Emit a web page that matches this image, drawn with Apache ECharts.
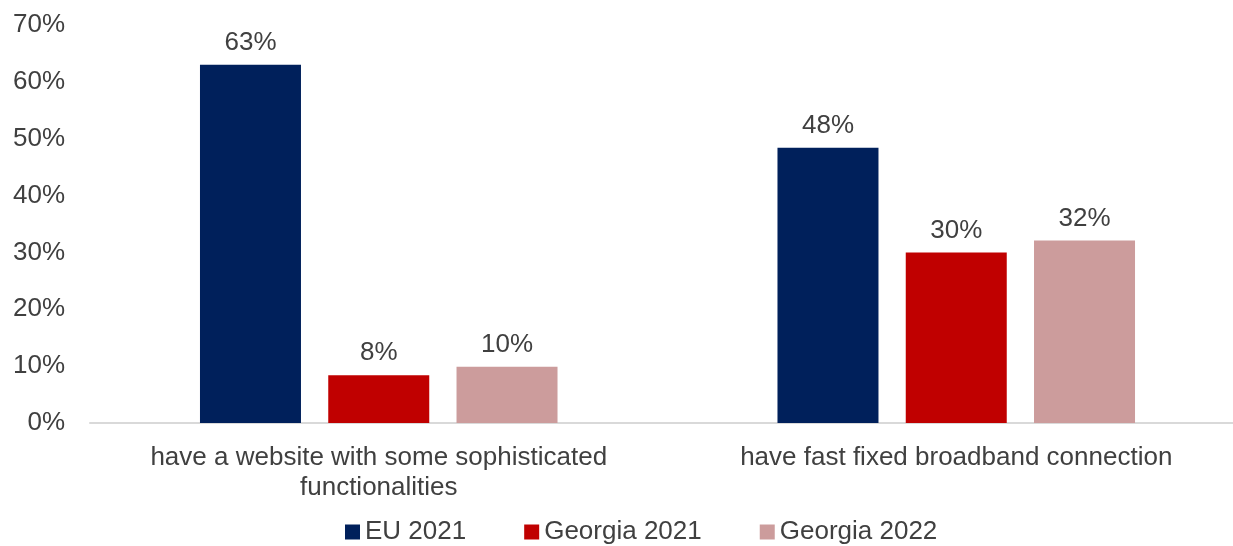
<!DOCTYPE html>
<html>
<head>
<meta charset="utf-8">
<script src="https://cdn.jsdelivr.net/npm/echarts@6/dist/echarts.min.js"></script>
<style>
  html, body { margin: 0; padding: 0; background: #fff; }
  #chart { width: 1233px; height: 546px; }
</style>
</head>
<body>
<div id="chart"></div>
<script>
// chart data
var categories = ['have a website with some sophisticated\nfunctionalities', 'have fast fixed broadband connection'];
var seriesNames = ['EU 2021', 'Georgia 2021', 'Georgia 2022'];
var eu2021 = [63, 48.4];
var georgia2021 = [8.4, 30];
var georgia2022 = [9.9, 32.1];
var colors = ['#00205b', '#c00000', '#cc9c9c'];

var textColor = '#404040';
var fontFamily = '"Liberation Sans", Arial, sans-serif';

function makeSeries(name, data, color) {
	return {
		name: name,
		type: 'bar',
		data: data,
		barWidth: 101,
		barGap: '27%',
		itemStyle: { color: color },
		label: {
			show: true,
			position: 'top',
			distance: 9,
			color: textColor,
			fontSize: 26,
			fontFamily: fontFamily,
			formatter: function(p) { return Math.round(p.value) + '%'; }
		}
	};
}

var chart = echarts.init(document.getElementById('chart'));
chart.setOption({
	animation: false,
	color: colors,
	textStyle: { fontFamily: fontFamily, color: textColor },
	grid: { left: 90, right: -12, top: 25, bottom: 123, outerBoundsMode: 'none' },
	legend: {
		bottom: -4,
		left: 340,
		icon: 'rect',
		itemWidth: 15,
		itemHeight: 15,
		itemGap: 58,
		textStyle: { fontSize: 26, color: textColor, fontFamily: fontFamily },
		data: seriesNames
	},
	xAxis: {
		type: 'category',
		data: categories,
		axisLine: { lineStyle: { color: '#d9d9d9', width: 2 } },
		axisTick: { show: false },
		axisLabel: {
			interval: 0,
			hideOverlap: false,
			color: textColor,
			fontSize: 26,
			lineHeight: 30,
			margin: 20,
			fontFamily: fontFamily
		}
	},
	yAxis: {
		type: 'value',
		min: 0,
		max: 70,
		interval: 10,
		axisLine: { show: false },
		axisTick: { show: false },
		splitLine: { show: false },
		axisLabel: {
			color: textColor,
			fontSize: 26,
			margin: 25,
			fontFamily: fontFamily,
			formatter: '{value}%'
		}
	},
	series: [
		makeSeries(seriesNames[0], eu2021, colors[0]),
		makeSeries(seriesNames[1], georgia2021, colors[1]),
		makeSeries(seriesNames[2], georgia2022, colors[2])
	]
});
</script>
</body>
</html>
